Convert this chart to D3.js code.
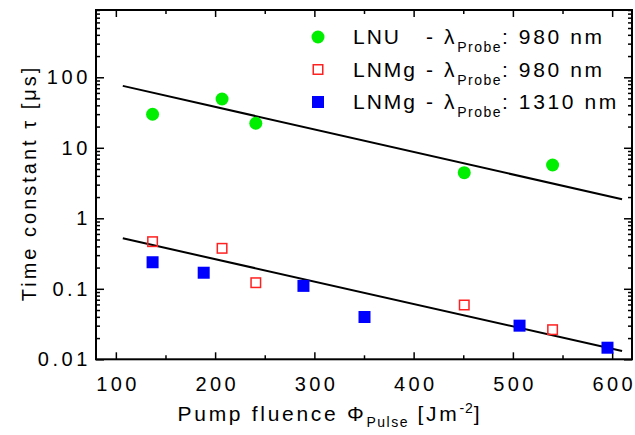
<!DOCTYPE html>
<html><head><meta charset="utf-8">
<script src="https://cdn.jsdelivr.net/npm/d3@7"></script>
<style>
html,body{margin:0;padding:0;background:#fff;}
text{font-family:"Liberation Sans",Arial,sans-serif;fill:#000;}
</style></head>
<body><svg id="c" width="635" height="435"></svg>
<script>
// ---- data ----
const lnuX = [137, 207, 241, 451, 540];
const lnuY = [29.9, 49.2, 22.3, 4.43, 5.7];
const lnmg980X = [137, 207, 241, 451, 540];
const lnmg980Y = [0.466, 0.375, 0.122, 0.0589, 0.0263];
const lnmg1310X = [137, 188.5, 289, 350.5, 506.7, 595.3];
const lnmg1310Y = [0.238, 0.169, 0.110, 0.0398, 0.030, 0.0146];
const fitX = [107, 610];
const fitLNU = [75.5, 1.86];
const fitLNMg = [0.52, 0.0131];
const xMajorTicks = [100, 200, 300, 400, 500, 600];
const xMinorTicks = [150, 250, 350, 450, 550];
const yMajorTicks = [0.01, 0.1, 1, 10, 100];
const yTickLabels = ["0.01", "0.1", "1", "10", "100"];
const legendNames = ["LNU", "LNMg", "LNMg"];
const legendProbe = ["980 nm", "980 nm", "1310 nm"];

const svg = d3.select("#c");
const L = 96, R = 632, T = 10, B = 359.3;
const x = d3.scaleLinear().domain([80, 620]).range([L, R]);
const y = d3.scaleLog().domain([0.01, 900]).range([B, T]);

const yMinor = [];
[0.01, 0.1, 1, 10, 100].forEach(d => { for (let k = 2; k <= 9; k++) { const v = d * k; if (v <= 900) yMinor.push(v); } });

function axisStyle(g){ g.select(".domain").remove(); g.selectAll("line").attr("stroke","#000").attr("stroke-width",1.5); }

// bottom axis
svg.append("g").attr("transform",`translate(0,${B})`)
  .call(d3.axisBottom(x).tickValues(xMajorTicks).tickSize(-7).tickPadding(18).tickFormat(d3.format("d")))
  .call(axisStyle)
  .call(g=>g.selectAll("text").attr("font-size",20).attr("dy","0.71em").attr("dx",1.7)
    .attr("letter-spacing","3.4px").attr("font-family","Liberation Sans, Arial"));
svg.append("g").attr("transform",`translate(0,${B})`)
  .call(d3.axisBottom(x).tickValues(xMinorTicks).tickSize(-4).tickFormat(""))
  .call(axisStyle);
// top axis
svg.append("g").attr("transform",`translate(0,${T})`)
  .call(d3.axisTop(x).tickValues(xMajorTicks).tickSize(-7).tickFormat(""))
  .call(axisStyle);
svg.append("g").attr("transform",`translate(0,${T})`)
  .call(d3.axisTop(x).tickValues(xMinorTicks).tickSize(-4).tickFormat(""))
  .call(axisStyle);
// left axis
svg.append("g").attr("transform",`translate(${L},0)`)
  .call(d3.axisLeft(y).tickValues(yMajorTicks).tickSize(-8).tickPadding(5).tickFormat((d,i)=>yTickLabels[i]))
  .call(axisStyle)
  .call(g=>g.selectAll("text").attr("font-size",20).attr("letter-spacing","3.6px").attr("font-family","Liberation Sans, Arial"));
svg.append("g").attr("transform",`translate(${L},0)`)
  .call(d3.axisLeft(y).tickValues(yMinor).tickSize(-4).tickFormat(""))
  .call(axisStyle);
// right axis
svg.append("g").attr("transform",`translate(${R},0)`)
  .call(d3.axisRight(y).tickValues(yMajorTicks).tickSize(-8).tickFormat(""))
  .call(axisStyle);
svg.append("g").attr("transform",`translate(${R},0)`)
  .call(d3.axisRight(y).tickValues(yMinor).tickSize(-4).tickFormat(""))
  .call(axisStyle);

// frame
svg.append("rect").attr("x",L).attr("y",T).attr("width",R-L).attr("height",B-T)
  .attr("fill","none").attr("stroke","#000").attr("stroke-width",2);

// fit lines
const line = d3.line().x(d=>x(d[0])).y(d=>y(d[1]));
[fitLNU, fitLNMg].forEach(f=>{
  svg.append("path").datum(fitX.map((v,i)=>[v,f[i]])).attr("d",line)
    .attr("fill","none").attr("stroke","#000").attr("stroke-width",2);
});

// data points
svg.append("g").selectAll("circle").data(lnuX.map((v,i)=>[v,lnuY[i]])).join("circle")
  .attr("cx",d=>x(d[0])).attr("cy",d=>y(d[1])).attr("r",6.5).attr("fill","#00ee00");
const s1 = 11;
svg.append("g").selectAll("rect").data(lnmg980X.map((v,i)=>[v,lnmg980Y[i]])).join("rect")
  .attr("x",d=>x(d[0])-s1/2+0.75).attr("y",d=>y(d[1])-s1/2+0.75).attr("width",s1-1.5).attr("height",s1-1.5)
  .attr("fill","none").attr("stroke","#ff2020").attr("stroke-width",1.5);
const s2 = 12;
svg.append("g").selectAll("rect").data(lnmg1310X.map((v,i)=>[v,lnmg1310Y[i]])).join("rect")
  .attr("x",d=>x(d[0])-s2/2).attr("y",d=>y(d[1])-s2/2).attr("width",s2).attr("height",s2)
  .attr("fill","#0000ff");

// legend
const rows = [37, 69.5, 102];
const lg = svg.append("g");
lg.append("circle").attr("cx",318).attr("cy",rows[0]).attr("r",6.5).attr("fill","#00ee00");
lg.append("rect").attr("x",318-s1/2+0.75).attr("y",rows[1]-s1/2+0.75).attr("width",s1-1.5).attr("height",s1-1.5)
  .attr("fill","none").attr("stroke","#ff2020").attr("stroke-width",1.5);
lg.append("rect").attr("x",318-s2/2).attr("y",rows[2]-s2/2).attr("width",s2).attr("height",s2).attr("fill","#0000ff");
rows.forEach((ry,i)=>{
  lg.append("text").attr("x",353).attr("y",ry+7).attr("font-size",21).attr("letter-spacing","2px").text(legendNames[i]);
  const t = lg.append("text").attr("x",426).attr("y",ry+7).attr("font-size",21).attr("letter-spacing","2.6px");
  t.append("tspan").text("- λ");
  t.append("tspan").attr("dy",8).attr("font-size",14).attr("letter-spacing","1.5px").text("Probe");
  t.append("tspan").attr("dy",-8).text(": " + legendProbe[i]);
});

// axis titles
const xt = svg.append("text").attr("x",330).attr("y",421).attr("font-size",21).attr("text-anchor","middle").attr("letter-spacing","2.7px");
xt.append("tspan").text("Pump fluence Φ");
xt.append("tspan").attr("dy",6).attr("font-size",14).attr("letter-spacing","1.5px").text("Pulse");
xt.append("tspan").attr("dy",-6).text(" [Jm");
xt.append("tspan").attr("dy",-8).attr("font-size",14).attr("letter-spacing","1px").text("-2");
xt.append("tspan").attr("dy",8).text("]");

svg.append("text").attr("transform","translate(36,183) rotate(-90)").attr("font-size",20)
  .attr("text-anchor","middle").attr("letter-spacing","3px").text("Time constant τ [μs]");
</script></body></html>
